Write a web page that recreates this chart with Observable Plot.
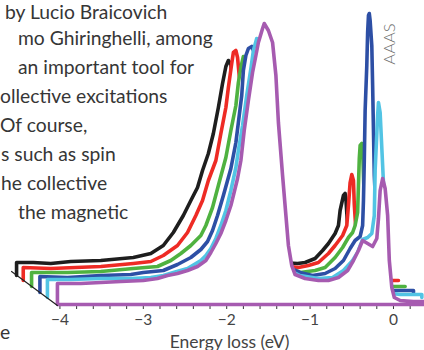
<!DOCTYPE html>
<html><head><meta charset="utf-8">
<script src="https://cdn.jsdelivr.net/npm/d3@7"></script>
<script src="https://cdn.jsdelivr.net/npm/@observablehq/plot@0.6"></script>
<style>
html,body{margin:0;padding:0;background:#fff;}
#wrap{position:relative;width:424px;height:350px;overflow:hidden;font-family:Lato,sans-serif;}
#chart{position:absolute;left:0;top:0;}
.ln{position:absolute;white-space:nowrap;font-size:19.3px;line-height:15.44px;color:#363636;}
#aaas{position:absolute;left:389px;top:44px;font-size:16.5px;line-height:16.5px;color:#6e6e6e;font-weight:300;white-space:nowrap;transform:translate(-50%,-50%) rotate(-90deg);}
</style></head>
<body><div id="wrap"><div id="chart"></div><div id="aaas">AAAS</div></div>
<script>
// Spectra (energy loss in eV, intensity in arbitrary units, waterfall-stacked)
const energyBlack = [-4.52,-4.32,-4.11,-3.87,-3.51,-3.12,-2.91,-2.76,-2.64,-2.52,-2.43,-2.35,-2.29,-2.22,-2.16,-2.10,-2.05,-2.01,-1.98,-1.95,-1.92,-1.86,-1.79,-1.71,-1.62,-1.35,-1.15,-1.06,-0.94,-0.85,-0.78,-0.70,-0.66,-0.64,-0.60,-0.58,-0.57,-0.54,-0.50,-0.40,-0.04];
const intensityBlack = [0.42,0.42,0.41,0.43,0.44,0.47,0.51,0.59,0.72,0.89,1.04,1.17,1.34,1.51,1.71,1.97,2.21,2.38,2.44,2.40,2.14,1.54,0.94,0.59,0.46,0.42,0.41,0.42,0.46,0.54,0.61,0.71,0.79,0.94,1.09,1.11,1.05,0.65,0.42,0.32,0.29];

const energyRed = [-4.44,-4.11,-3.51,-3.12,-2.91,-2.76,-2.59,-2.47,-2.37,-2.29,-2.22,-2.13,-2.07,-2.01,-1.98,-1.94,-1.92,-1.89,-1.87,-1.85,-1.80,-1.74,-1.67,-1.57,-1.41,-1.24,-1.14,-1.02,-0.90,-0.78,-0.70,-0.61,-0.56,-0.54,-0.52,-0.50,-0.48,-0.47,-0.44,-0.42,-0.37,-0.28,0.06];
const intensityRed = [0.37,0.36,0.38,0.41,0.43,0.49,0.59,0.72,0.89,1.04,1.24,1.44,1.71,1.97,2.17,2.41,2.52,2.54,2.47,2.29,1.84,1.24,0.69,0.47,0.41,0.38,0.37,0.39,0.42,0.51,0.59,0.69,0.79,0.99,1.22,1.30,1.24,1.00,0.60,0.45,0.30,0.24,0.24];

const energyGreen = [-4.34,-3.91,-3.51,-3.12,-2.83,-2.67,-2.55,-2.43,-2.31,-2.25,-2.17,-2.10,-2.01,-1.95,-1.89,-1.86,-1.83,-1.80,-1.76,-1.73,-1.67,-1.61,-1.55,-1.45,-1.29,-1.12,-0.94,-0.82,-0.70,-0.61,-0.54,-0.49,-0.46,-0.43,-0.42,-0.41,-0.40,-0.38,-0.37,-0.35,-0.31,-0.25,-0.16,0.14];
const intensityGreen = [0.32,0.32,0.33,0.36,0.38,0.44,0.51,0.59,0.69,0.79,0.97,1.19,1.47,1.74,1.99,2.22,2.37,2.48,2.46,2.24,1.74,1.09,0.66,0.46,0.38,0.32,0.34,0.37,0.47,0.57,0.67,0.72,0.79,0.92,1.19,1.46,1.59,1.61,1.54,1.04,0.44,0.22,0.18,0.18];

const energyBlue = [-4.24,-3.91,-3.51,-3.15,-3.00,-2.76,-2.59,-2.43,-2.31,-2.23,-2.17,-2.11,-2.04,-1.95,-1.89,-1.86,-1.82,-1.80,-1.77,-1.74,-1.70,-1.67,-1.63,-1.57,-1.52,-1.47,-1.41,-1.29,-1.12,-0.97,-0.82,-0.70,-0.60,-0.52,-0.46,-0.40,-0.37,-0.36,-0.35,-0.34,-0.32,-0.31,-0.30,-0.29,-0.28,-0.26,-0.25,-0.24,-0.23,-0.20,-0.18,-0.13,-0.04,0.24];
const intensityBlue = [0.28,0.27,0.29,0.30,0.32,0.34,0.40,0.47,0.55,0.63,0.74,0.89,1.09,1.36,1.62,1.82,2.09,2.34,2.49,2.56,2.58,2.52,2.24,1.64,1.04,0.64,0.46,0.38,0.32,0.29,0.31,0.36,0.44,0.56,0.64,0.68,0.79,1.04,1.44,1.94,2.39,2.72,2.89,2.91,2.84,2.59,2.19,1.74,1.29,0.74,0.34,0.19,0.14,0.14];

const energyCyan = [-4.15,-3.87,-3.51,-3.15,-2.91,-2.76,-2.64,-2.47,-2.31,-2.25,-2.19,-2.13,-2.07,-2.01,-1.95,-1.89,-1.86,-1.81,-1.76,-1.71,-1.68,-1.64,-1.61,-1.57,-1.52,-1.47,-1.43,-1.38,-1.32,-1.24,-1.12,-0.90,-0.73,-0.60,-0.49,-0.43,-0.37,-0.31,-0.26,-0.23,-0.22,-0.19,-0.18,-0.16,-0.13,-0.11,-0.08,-0.06,-0.01,0.08,0.34];
const intensityCyan = [0.25,0.25,0.26,0.26,0.27,0.29,0.32,0.36,0.44,0.49,0.56,0.66,0.79,0.94,1.14,1.37,1.54,1.79,2.09,2.36,2.54,2.66,2.64,2.49,2.14,1.54,0.94,0.59,0.42,0.34,0.29,0.26,0.27,0.34,0.44,0.52,0.65,0.67,0.71,0.89,1.34,1.89,2.02,1.92,1.39,1.04,0.54,0.19,0.11,0.10,0.10];

const energyPurple = [-4.03,-3.75,-3.51,-3.27,-3.00,-2.83,-2.71,-2.59,-2.47,-2.35,-2.25,-2.19,-2.13,-2.07,-2.01,-1.95,-1.92,-1.87,-1.83,-1.79,-1.74,-1.69,-1.65,-1.62,-1.57,-1.55,-1.50,-1.45,-1.41,-1.38,-1.33,-1.29,-1.26,-1.22,-1.18,-1.06,-0.90,-0.78,-0.66,-0.55,-0.48,-0.42,-0.37,-0.31,-0.25,-0.20,-0.18,-0.16,-0.13,-0.10,-0.07,-0.05,-0.02,0.01,0.08,0.24,0.43];
const intensityPurple = [0.21,0.21,0.22,0.23,0.24,0.26,0.29,0.31,0.34,0.38,0.44,0.52,0.61,0.71,0.84,0.99,1.09,1.26,1.44,1.74,2.04,2.32,2.49,2.62,2.76,2.81,2.74,2.62,2.29,1.82,1.29,0.89,0.59,0.39,0.30,0.26,0.24,0.24,0.27,0.34,0.44,0.54,0.64,0.61,0.58,0.66,0.86,1.14,1.26,1.16,0.89,0.44,0.17,0.07,0.04,0.03,0.03];

// waterfall baseline of each spectrum (back to front)
const baselines = [0.29, 0.24, 0.18, 0.12, 0.07, 0];
// the oblique offset axis joining the baselines
const diagonalEnergy = [-4.58, -4.03];
const diagonalIntensity = [0.33, -0.01];

const majorTicks = [-4, -3, -2, -1, 0];
const minorTicks = d3.range(-20, 2).map(i => i / 5);

const paraLines = ["by Lucio Braicovich", "mo Ghiringhelli, among", "an important tool for", "ollective excitations", "Of course,", "s such as spin", "he collective", "the magnetic"];

// ---- styling / layout (not data) ----
const colors = ["#1e1e1e", "#ee2b25", "#4fb240", "#2d4fa5", "#52c4e4", "#a65bb0"];
const energies = [energyBlack, energyRed, energyGreen, energyBlue, energyCyan, energyPurple];
const intensities = [intensityBlack, intensityRed, intensityGreen, intensityBlue, intensityCyan, intensityPurple];

const marks = [
  Plot.axisX({ticks: minorTicks, tickSize: 5, tickFormat: () => "", stroke: "#333", label: null}),
  Plot.axisX({ticks: majorTicks, tickSize: 0, tickPadding: 9, fill: "#444", fontSize: 15.5, tickFormat: d3.format("d"), label: null}),
  Plot.axisX({ticks: [], tickSize: 0, fill: "#444", fontSize: 17.5, label: "Energy loss (eV)", labelAnchor: "center", labelArrow: "none", labelOffset: 43})
];
energies.forEach((E, i) => {
  const base = baselines[i];
  const pts = E.map((e, j) => ({E: e, I: intensities[i][j]}));
  const outline = [{E: E[0], I: base}, ...pts, {E: E[E.length - 1], I: base}];
  if (i === energies.length - 1) outline.push({E: E[0], I: base});
  marks.push(Plot.areaY(pts, {x: "E", y1: () => base, y2: "I", fill: "white"}));
  marks.push(Plot.line(outline, {x: "E", y: "I", stroke: colors[i], strokeWidth: 3.6, strokeLinejoin: "round", strokeLinecap: "round"}));
});
marks.push(Plot.line(diagonalEnergy.map((e, j) => ({E: e, I: diagonalIntensity[j]})), {x: "E", y: "I", stroke: "#222", strokeWidth: 1.2}));

const chart = Plot.plot({
  width: 424, height: 350,
  marginLeft: 34, marginRight: 0, marginTop: 0, marginBottom: 46,
  x: {domain: [-4.305, 0.372], label: null},
  y: {domain: [0, 3.04], axis: null, label: null},
  style: {fontFamily: "Lato, sans-serif", fontSize: "16px", color: "#444", background: "transparent", overflow: "visible"},
  marks
});
document.getElementById("chart").appendChild(chart);

// surrounding article text (cropped lines)
const wrap = document.getElementById("wrap");
const paraLeft = [5, 18, 18, 0, 0, 1, 1, 18];
const paraBaseline = [19, 45.5, 74.5, 103.5, 132.5, 161.5, 190.5, 219.5];
const asc = 0.787 * 19.3;
paraLines.forEach((t, k) => {
  const d = document.createElement("div");
  d.className = "ln";
  d.textContent = t;
  d.style.left = paraLeft[k] + "px";
  d.style.top = (paraBaseline[k] - asc) + "px";
  wrap.appendChild(d);
});
const e = document.createElement("div");
e.className = "ln"; e.textContent = "e"; e.style.left = "0px"; e.style.top = (339 - asc) + "px";
wrap.appendChild(e);
</script>
</body></html>
